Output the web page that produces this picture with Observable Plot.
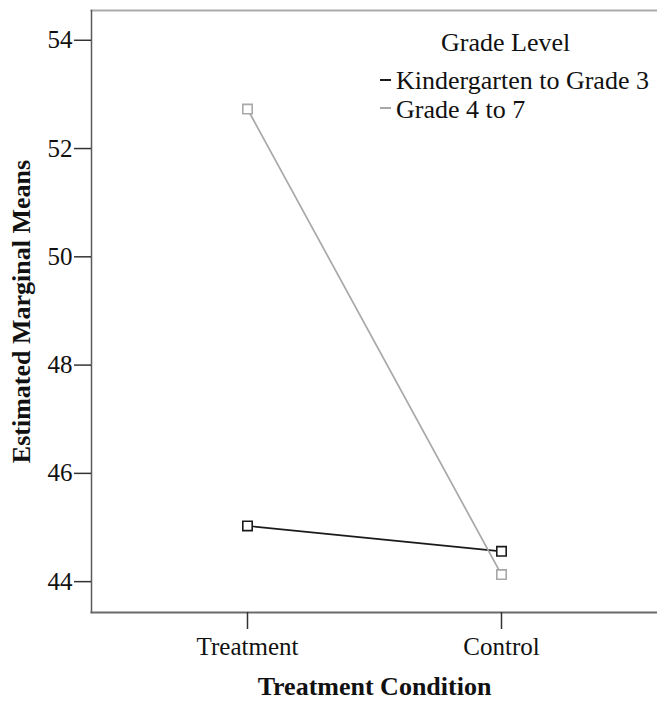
<!DOCTYPE html>
<html>
<head>
<meta charset="utf-8">
<script src="https://cdn.jsdelivr.net/npm/d3@7"></script>
<script src="https://cdn.jsdelivr.net/npm/@observablehq/plot@0.6"></script>
<style>
  html, body { margin: 0; padding: 0; background: #fff; }
  #wrap { position: relative; width: 657px; height: 702px; overflow: hidden; font-family: "Liberation Serif", "Times New Roman", serif; }
  #legend { position: absolute; left: 0; top: 0; width: 657px; height: 140px; font-size: 26px; color: #111; pointer-events: none; }
  #legend .txt { position: absolute; white-space: nowrap; line-height: 29px; height: 29px; }
  #legend .swatch { position: absolute; width: 11px; height: 2px; }
</style>
</head>
<body>
<div id="wrap"><div id="legend"></div></div>
<script>
const conditions = ["Treatment", "Control"];
const grades = ["Kindergarten to Grade 3", "Grade 4 to 7"];
const k3Means = [45.03, 44.56];
const g47Means = [52.73, 44.13];
const yTicks = [44, 46, 48, 50, 52, 54];
const gradeColors = ["#1a1a1a", "#a8a8a8"];
const legendTitle = "Grade Level";

const data = [];
conditions.forEach((c, i) => {
  data.push({condition: c, grade: grades[0], mean: k3Means[i]});
  data.push({condition: c, grade: grades[1], mean: g47Means[i]});
});

const plot = Plot.plot({
  width: 657,
  height: 702,
  marginLeft: 91,
  marginRight: 0,
  marginTop: 10,
  marginBottom: 90,
  style: {fontFamily: "Liberation Serif, Times New Roman, serif", fontSize: "25px", color: "#111", background: "#fff"},
  x: {type: "point", domain: conditions, padding: 0.61},
  y: {domain: [43.43, 54.55]},
  color: {domain: grades, range: gradeColors},
  marks: [
    Plot.frame({anchor: "top", stroke: "#aaa", strokeWidth: 2}),
    Plot.frame({anchor: "left", stroke: "#5a5a5a", strokeWidth: 1.5}),
    Plot.frame({anchor: "bottom", stroke: "#6a6a6a", strokeWidth: 2}),
    Plot.axisY({ticks: yTicks, tickSize: 17, tickPadding: 2, stroke: "#333", strokeWidth: 1.5, fontSize: 25, label: "Estimated Marginal Means", labelAnchor: "center", labelArrow: "none", labelOffset: 80}),
    Plot.axisX({tickSize: 17, tickPadding: 8, stroke: "#333", strokeWidth: 1.5, fontSize: 25, label: "Treatment Condition", labelAnchor: "center", labelArrow: "none", labelOffset: 82}),
    Plot.line(data, {x: "condition", y: "mean", stroke: "grade", strokeWidth: 1.7}),
    Plot.dot(data, {x: "condition", y: "mean", stroke: "grade", symbol: "square", r: 5.3, fill: "#fff", strokeWidth: 1.6})
  ]
});

d3.select(plot).selectAll("g[aria-label='y-axis label'] text, g[aria-label='x-axis label'] text")
  .style("font-weight", "bold").style("font-size", "26px");

document.getElementById("wrap").prepend(plot);

const legend = d3.select("#legend");
legend.append("div").attr("class", "txt").text(legendTitle)
  .style("left", "441px").style("top", "28px");
grades.forEach((g, i) => {
  legend.append("div").attr("class", "swatch")
    .style("background", gradeColors[i])
    .style("left", "380px").style("top", (79 + 28 * i) + "px");
  legend.append("div").attr("class", "txt").text(g)
    .style("left", "396px").style("top", (66 + 29 * i) + "px");
});
</script>
</body>
</html>
